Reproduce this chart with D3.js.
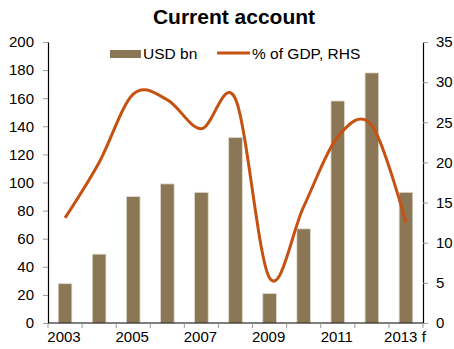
<!DOCTYPE html>
<html>
<head>
<meta charset="utf-8">
<script src="https://cdn.jsdelivr.net/npm/d3@7/dist/d3.min.js"></script>
<style>
  html, body { margin: 0; padding: 0; background: #fff; }
  svg { display: block; font-family: "Liberation Sans", Arial, sans-serif; }
</style>
</head>
<body>
<svg id="chart" width="454" height="349"></svg>
<script>
// Current account: USD bn (bars, left axis) and % of GDP (line, right axis)
const years = ["2003", "2004", "2005", "2006", "2007", "2008", "2009", "2010", "2011", "2012", "2013 f"];
const usdBn = [28, 49, 90, 99, 93, 132, 21, 67, 158, 178, 93];
const pctGdp = [13.1, 20.0, 28.5, 27.8, 24.2, 27.9, 5.6, 14.5, 23.2, 24.6, 12.5];
const leftTicks = [0, 20, 40, 60, 80, 100, 120, 140, 160, 180, 200];
const rightTicks = [0, 5, 10, 15, 20, 25, 30, 35];
const xLabels = ["2003", "2005", "2007", "2009", "2011", "2013 f"];

const svg = d3.select("#chart");
const plotLeft = 48, plotRight = 423, plotTop = 42, plotBottom = 323;
const barColor = "#8b7756";
const lineColor = "#c55213";

const x = d3.scaleBand().domain(years).range([plotLeft, plotRight])
  .paddingInner(0.6).paddingOuter(0.3);
const yL = d3.scaleLinear().domain([0, 200]).range([plotBottom, plotTop]);
const yR = d3.scaleLinear().domain([0, 35]).range([plotBottom, plotTop]);

// bars
svg.append("g").selectAll("rect").data(years).join("rect")
  .attr("x", d => x(d))
  .attr("y", (d, i) => yL(usdBn[i]))
  .attr("width", x.bandwidth())
  .attr("height", (d, i) => plotBottom - yL(usdBn[i]))
  .attr("fill", barColor)
  .attr("stroke", "#e2dace")
  .attr("stroke-width", 0.8);

// axes
function styleAxis(g) {
  g.select(".domain").attr("stroke", "#000").attr("stroke-width", 1.2);
  g.selectAll(".tick line").attr("stroke", "#999");
  g.selectAll(".tick text").attr("fill", "#000").attr("font-size", 15);
}

svg.append("g").attr("transform", `translate(${plotLeft},0)`)
  .call(d3.axisLeft(yL).tickValues(leftTicks).tickSize(5).tickPadding(9).tickSizeOuter(0))
  .call(styleAxis);

svg.append("g").attr("transform", `translate(${plotRight},0)`)
  .call(d3.axisRight(yR).tickValues(rightTicks).tickSize(5).tickPadding(8).tickSizeOuter(0))
  .call(styleAxis);

// bottom axis: ticks at category boundaries, labels every other year
const xAxis = svg.append("g").attr("transform", `translate(0,${plotBottom})`);
xAxis.append("line").attr("x1", plotLeft).attr("x2", plotRight)
  .attr("stroke", "#000").attr("stroke-width", 1.2);
const step = x.step();
const boundaries = d3.range(years.length + 1).map(i => x(years[0]) - step * x.paddingOuter() + i * step);
xAxis.selectAll("line.tk").data(boundaries).join("line")
  .attr("class", "tk")
  .attr("x1", d => d).attr("x2", d => d)
  .attr("y1", 0).attr("y2", 5)
  .attr("stroke", "#999");
xAxis.selectAll("text").data(xLabels).join("text")
  .attr("x", d => x(d) + x.bandwidth() / 2 - 1)
  .attr("y", 19)
  .attr("text-anchor", "middle")
  .attr("font-size", 15)
  .attr("fill", "#000")
  .text(d => d);

// smoothed % of GDP line
const line = d3.line()
  .x((d, i) => x(years[i]) + x.bandwidth() / 2)
  .y(d => yR(d))
  .curve(d3.curveCardinal.tension(0));
svg.append("path").datum(pctGdp)
  .attr("d", line)
  .attr("fill", "none")
  .attr("stroke", lineColor)
  .attr("stroke-width", 3);

// title
svg.append("text").attr("x", 234).attr("y", 24)
  .attr("text-anchor", "middle")
  .attr("font-size", 21).attr("font-weight", "bold")
  .attr("fill", "#000")
  .text("Current account");

// legend
const lg = svg.append("g");
lg.append("rect").attr("x", 110).attr("y", 50).attr("width", 31).attr("height", 8)
  .attr("fill", barColor);
lg.append("text").attr("x", 143).attr("y", 58.5).attr("font-size", 15.5)
  .attr("fill", "#000").text("USD bn");
lg.append("line").attr("x1", 217).attr("x2", 250).attr("y1", 53).attr("y2", 53)
  .attr("stroke", lineColor).attr("stroke-width", 3);
lg.append("text").attr("x", 252).attr("y", 58.5).attr("font-size", 15.5)
  .attr("fill", "#000").text("% of GDP, RHS");
</script>
</body>
</html>
